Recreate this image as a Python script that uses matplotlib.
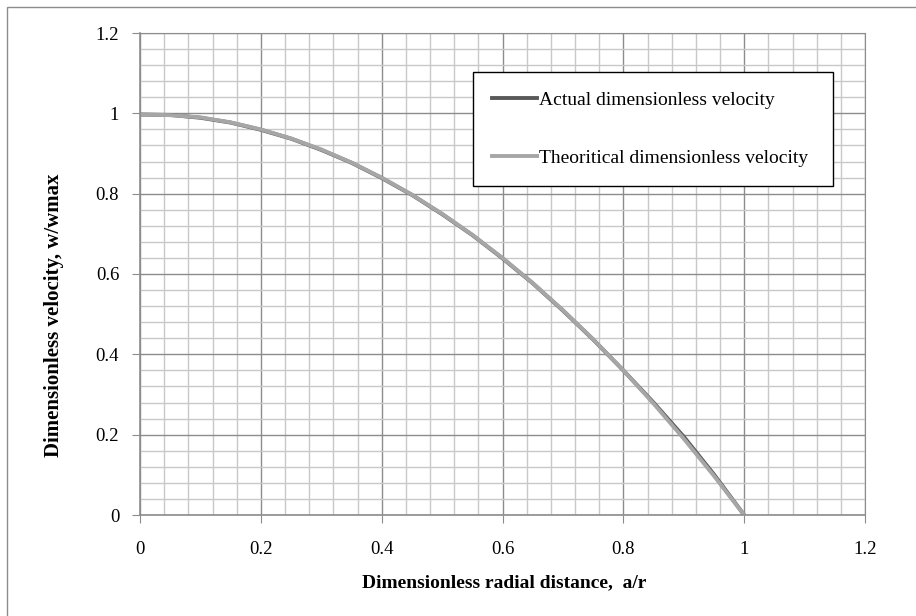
import matplotlib
matplotlib.use("Agg")
import matplotlib.pyplot as plt
from matplotlib.lines import Line2D
from matplotlib.patches import Rectangle
from matplotlib.ticker import MultipleLocator

plt.rcParams['font.family'] = ['Liberation Serif', 'DejaVu Serif']

# Dimensionless radial distance
radial = [0.0, 0.05, 0.10, 0.15, 0.20, 0.25, 0.30, 0.35, 0.40, 0.45, 0.50,
          0.55, 0.60, 0.65, 0.70, 0.75, 0.80, 0.85, 0.90, 0.95, 1.0]
# Measured dimensionless velocity
actual = [0.997, 0.996, 0.989, 0.977, 0.959, 0.937, 0.909, 0.877, 0.839, 0.797, 0.749,
          0.697, 0.639, 0.577, 0.509, 0.437, 0.360, 0.280, 0.195, 0.101, 0.0]
# Theoretical dimensionless velocity
theoretical = [0.997, 0.9955, 0.99, 0.9775, 0.96, 0.9375, 0.91, 0.8775, 0.84, 0.7975, 0.75,
               0.6975, 0.64, 0.5775, 0.51, 0.4375, 0.36, 0.2775, 0.19, 0.0975, 0.0]

x_ticks = [0, 0.2, 0.4, 0.6, 0.8, 1.0, 1.2]
x_tick_labels = ['0', '0.2', '0.4', '0.6', '0.8', '1', '1.2']
y_ticks = [0, 0.2, 0.4, 0.6, 0.8, 1.0, 1.2]
y_tick_labels = ['0', '0.2', '0.4', '0.6', '0.8', '1', '1.2']

W, H = 916, 616
fig = plt.figure(figsize=(W / 100, H / 100), dpi=100)
fig.patch.set_facecolor('white')

# chart frame
fig.patches.append(Rectangle((7 / W, -0.1), 1.2, 1 - 7 / H + 0.1,
                             transform=fig.transFigure, fill=False,
                             edgecolor='#8c8c8c', linewidth=1.0))

left, right, top, bottom = 140, 865, 33, 515
ax = fig.add_axes([left / W, 1 - bottom / H, (right - left) / W, (bottom - top) / H])

ax.set_xlim(0, 1.2)
ax.set_ylim(0, 1.2)
ax.xaxis.set_minor_locator(MultipleLocator(0.04))
ax.yaxis.set_minor_locator(MultipleLocator(0.04))
ax.set_xticks(x_ticks)
ax.set_xticklabels(x_tick_labels)
ax.set_yticks(y_ticks)
ax.set_yticklabels(y_tick_labels)

ax.grid(which='minor', color='#c8c8c8', linewidth=1.0)
ax.grid(which='major', color='#8c8c8c', linewidth=1.0)
ax.set_axisbelow(True)

for side in ['top', 'right']:
    ax.spines[side].set_color('#8c8c8c')
for side in ['left', 'bottom']:
    ax.spines[side].set_color('#8c8c8c')
    ax.spines[side].set_linewidth(1.2)

ax.tick_params(which='major', direction='out', length=6, color='#8c8c8c',
               labelsize=13.5, labelcolor='black')
ax.tick_params(axis='x', which='major', pad=13)
ax.tick_params(axis='y', which='major', pad=9)
ax.tick_params(which='minor', length=0)

ax.plot(radial, actual, color='#595959', linewidth=2.8, solid_capstyle='butt',
        label='Actual dimensionless velocity')
ax.plot(radial, theoretical, color='#a6a6a6', linewidth=2.8, solid_capstyle='butt',
        label='Theoritical dimensionless velocity')

fig.text(504 / W, 1 - 583 / H, 'Dimensionless radial distance,  a/r',
         fontsize=14, fontweight='bold', ha='center', va='center')
fig.text(54 / W, 1 - 315 / H, 'Dimensionless velocity, w/wmax',
         fontsize=15, fontweight='bold', ha='center', va='center', rotation=90)

handles = [Line2D([], [], color='#595959', linewidth=2.8),
           Line2D([], [], color='#a6a6a6', linewidth=2.8)]
leg = ax.legend(handles, ['Actual dimensionless velocity',
                          'Theoritical dimensionless velocity'],
                loc='center left',
                bbox_to_anchor=((473 - left) / (right - left), (bottom - 189) / (bottom - top),
                                (833 - 473) / (right - left), (189 - 69) / (bottom - top)),
                mode='expand', fontsize=14, frameon=True, fancybox=False,
                handlelength=2.3, handletextpad=0.1, labelspacing=2.1,
                borderpad=1.0, borderaxespad=0)
leg.get_frame().set_edgecolor('black')
leg.get_frame().set_linewidth(1.0)
leg.get_frame().set_alpha(1)

fig.savefig('out.png', dpi=100, facecolor='white')
